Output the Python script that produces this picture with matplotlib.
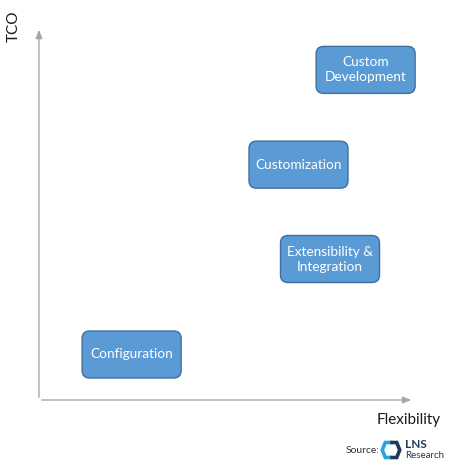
import matplotlib
matplotlib.use("Agg")
import matplotlib.pyplot as plt
from matplotlib.patches import FancyBboxPatch
from matplotlib.lines import Line2D

plt.rcParams['font.family'] = ['Lato', 'DejaVu Sans']

# approaches on the flexibility / TCO map (0-10 scale both ways)
labels = ["Custom\nDevelopment", "Customization", "Extensibility &\nIntegration", "Configuration"]
flexibility = [8.71, 6.92, 7.76, 2.47]
tco = [8.85, 6.31, 3.78, 1.22]

box_w = 2.64  # box size in data units
box_h = 1.26
face = "#5B9BD5"
edge = "#3F6F9E"
axis_col = "#A6A6A6"

fig = plt.figure(figsize=(4.53, 4.69), dpi=100)
ax = fig.add_axes([39 / 453, 69 / 469, 375 / 453, 373 / 469])
ax.set_xlim(0, 10)
ax.set_ylim(0, 10)
ax.axis("off")

# axes as arrows
ax.annotate("", xy=(10, 0), xytext=(0, 0),
            arrowprops=dict(arrowstyle="-|>,head_length=0.5,head_width=0.2", color=axis_col, lw=1.0),
            annotation_clip=False)
ax.annotate("", xy=(0, 10), xytext=(0, 0),
            arrowprops=dict(arrowstyle="-|>,head_length=0.5,head_width=0.2", color=axis_col, lw=1.0),
            annotation_clip=False)

for lab, x, y in zip(labels, flexibility, tco):
    box = FancyBboxPatch((x - box_w / 2, y - box_h / 2), box_w, box_h,
                         boxstyle="round,pad=0,rounding_size=0.2",
                         fc=face, ec=edge, lw=1.0, clip_on=False)
    ax.add_patch(box)
    ax.text(x, y, lab, ha="center", va="center", color="white",
            fontsize=9.8, linespacing=1.3)

# axis titles
fig.text(14 / 453, 1 - 26 / 469, "TCO", rotation=90, ha="center", va="center",
         fontsize=11, color="#1a1a1a")
fig.text(441 / 453, 1 - 420 / 469, "Flexibility", ha="right", va="center",
         fontsize=11, color="#1a1a1a")

# source line with a small logo
fig.text(379 / 453, 1 - 450 / 469, "Source:", ha="right", va="center",
         fontsize=7.5, color="#333333")
lx, ly = 391 / 453, 1 - 450 / 469
dx, dy = 3.8 / 453, 7.5 / 469
fig.add_artist(Line2D([lx - 0.3 * dx, lx - 1.5 * dx, lx - 2.3 * dx, lx - 1.5 * dx, lx - 0.3 * dx],
                      [ly + dy, ly + dy, ly, ly - dy, ly - dy], color="#29A3E0", lw=2.6,
                      solid_joinstyle="miter"))
fig.add_artist(Line2D([lx + 0.3 * dx, lx + 1.5 * dx, lx + 2.3 * dx, lx + 1.5 * dx, lx + 0.3 * dx],
                      [ly + dy, ly + dy, ly, ly - dy, ly - dy], color="#1B3A5C", lw=2.6,
                      solid_joinstyle="miter"))
fig.text(405 / 453, 1 - 444 / 469, "LNS", ha="left", va="center",
         fontsize=8.5, fontweight="bold", color="#1B3A5C")
fig.text(405 / 453, 1 - 455.5 / 469, "Research", ha="left", va="center",
         fontsize=7, color="#1B3A5C")

fig.savefig("out.png", dpi=100)
